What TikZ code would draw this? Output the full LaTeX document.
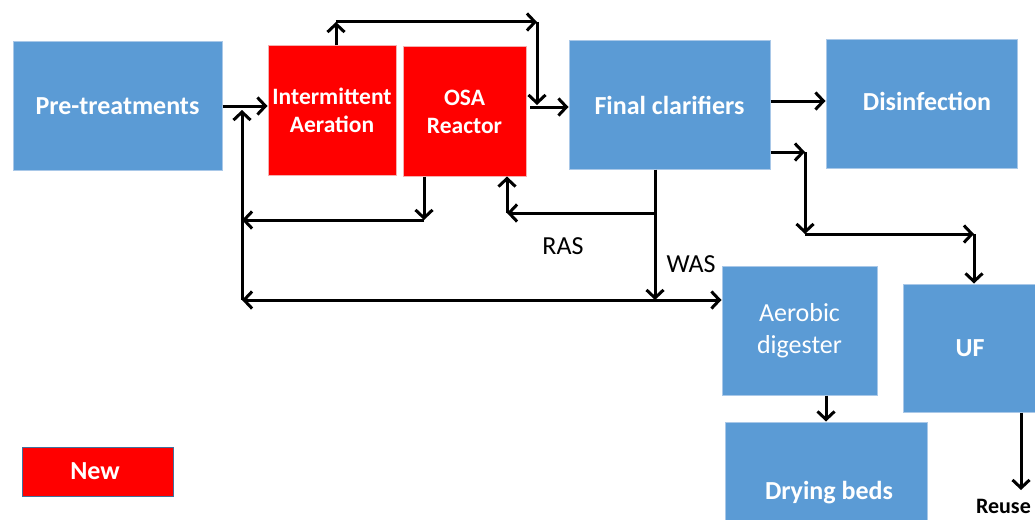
\documentclass[tikz,border=0pt]{standalone}
\usepackage{fontspec}
\setmainfont{Carlito}
\usetikzlibrary{arrows.meta}
\definecolor{boxblue}{HTML}{5B9BD5}
\definecolor{boxedge}{HTML}{A9C8E8}
\definecolor{newred}{HTML}{FF0000}
\definecolor{redge}{HTML}{F4B0B0}
\definecolor{newedge}{HTML}{41719C}
\tikzset{
  bluebox/.style={rectangle, fill=boxblue, draw=boxedge, line width=1pt, inner sep=0pt, text=white, font=\fontsize{26}{31}\selectfont\bfseries, align=center},
  redbox/.style={rectangle, fill=newred, draw=redge, line width=1pt, inner sep=0pt, text=white, font=\fontsize{23.5}{28}\selectfont\bfseries, align=center},
  whitetxt/.style={text=white, font=\fontsize{26}{31}\selectfont\bfseries, inner sep=0pt},
  plaintxt/.style={text=black, font=\fontsize{26}{31}\selectfont, inner sep=0pt},
  flow/.style={line width=3pt, draw=black, -{Straight Barb[length=8pt,width=17pt,line width=3pt]}},
}
\begin{document}
\begin{tikzpicture}[x=1pt,y=-1pt]
\useasboundingbox (0,0) rectangle (1035,519);
\clip (0,0) rectangle (1035,519);
% boxes
\node[bluebox, minimum width=209, minimum height=128] (pre) at (117.5,106) {Pre-treatments};
\node[redbox, minimum width=128, minimum height=129] (ia) at (332,110.5) {Intermittent\\Aeration};
\node[redbox, minimum width=123, minimum height=129] (osa) at (464.5,111.5) {OSA\\Reactor};
\node[bluebox, minimum width=201, minimum height=128] (fc) at (669.5,105) {Final clarifiers};
\node[bluebox, minimum width=191, minimum height=128] (dis) at (921.5,104) {};
\node[whitetxt] (distxt) at (927,101) {Disinfection};
\node[bluebox, minimum width=155, minimum height=129, font=\fontsize{26}{32}\selectfont] (ad) at (799.5,330.5) {Aerobic\\digester};
\node[bluebox, minimum width=140, minimum height=128] (uf) at (973,348) {};
\node[whitetxt] (uftxt) at (970,348) {UF};
\node[bluebox, minimum width=202, minimum height=120] (db) at (826,482) {};
\node[whitetxt] (dbtxt) at (829,493) {Drying beds};
\node[rectangle, fill=newred, draw=newedge, line width=1pt, minimum width=151, minimum height=49, inner sep=0pt] (new) at (97.5,471.5) {};
\node[whitetxt, font=\fontsize{26}{31}\selectfont\bfseries] (newtxt) at (95,471) {New};
\node[plaintxt, font=\fontsize{22}{26}\selectfont\bfseries, anchor=south east] (reuse) at (1031,514) {Reuse};
\node[plaintxt] (ras) at (563,246) {RAS};
\node[plaintxt] (was) at (691,264) {WAS};
% coordinates
\coordinate (t1) at (336,22);
\coordinate (t2) at (537,22);
\coordinate (t3) at (537,105);
\coordinate (t4) at (530,107);
\coordinate (b1) at (424,220);
\coordinate (b2) at (242,220);
\coordinate (L1) at (242,300);
\coordinate (L2) at (242,110);
\coordinate (c1) at (655,213);
\coordinate (c2) at (655,300);
\coordinate (c3) at (507,213);
\coordinate (r1) at (800,101);
\coordinate (r2) at (805,152);
\coordinate (r3) at (805,234);
\coordinate (r4) at (974,234);
\coordinate (a1) at (826,395);
\coordinate (u1) at (1021,490);
% connectors
\draw[flow] (pre.east) -- (pre.east -| ia.west);
\draw[flow] (L1) -- (L2);
\draw[flow] (ia.north -| t1) -- (t1);
\draw[flow] (t1) -- (t2);
\draw[flow] (t2) -- (t3);
\draw[flow] (t4) -- (t4 -| fc.west);
\draw[flow] (osa.south -| b1) -- (b1);
\draw[flow] (b1) -- (b2);
\draw[flow] (fc.south -| c1) -- (c2);
\draw[flow] (c1) -- (c3);
\draw[flow] (c3) -- (osa.south -| c3);
\draw[flow] (c2) -- (L1);
\draw[flow] (c2) -- (c2 -| ad.west);
\draw[flow] (fc.east |- r1) -- (dis.west |- r1);
\draw[flow] (fc.east |- r2) -- (r2);
\draw[flow] (r2) -- (r3);
\draw[flow] (r3) -- (r4);
\draw[flow] (r4) -- (r4 |- uf.north);
\draw[flow] (ad.south -| a1) -- (db.north -| a1);
\draw[flow] (uf.south -| u1) -- (u1);
\end{tikzpicture}
\end{document}
